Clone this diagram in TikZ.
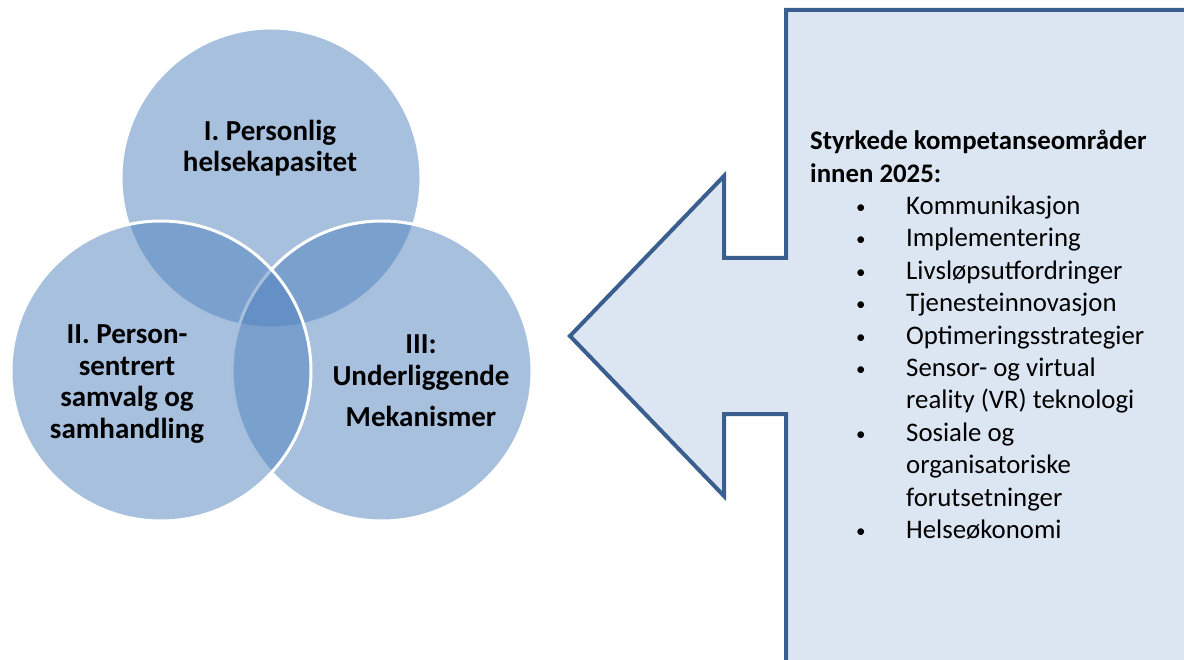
\documentclass[tikz,border=0pt]{standalone}
\usepackage{fontspec}
\setmainfont{Carlito}
\definecolor{vennblue}{HTML}{4F81BD}
\definecolor{arrowline}{HTML}{3A5F8F}
\definecolor{arrowfill}{HTML}{DCE6F2}
\tikzset{
  venn/.style={circle, minimum size=300pt, inner sep=0pt, fill=vennblue, fill opacity=0.5, draw=white, draw opacity=1, line width=3pt},
  venntext/.style={align=center, inner sep=0pt, font=\fontsize{29}{31.5}\selectfont\bfseries},
  arrowshape/.style={draw=arrowline, fill=arrowfill, line width=4pt, line join=miter},
}
\newcommand{\bul}[1]{\hspace*{46pt}\makebox[50pt][l]{\raisebox{1pt}{\fontsize{19}{19}\selectfont •}}#1}
\newcommand{\cont}[1]{\hspace*{96pt}#1}
\begin{document}
\begin{tikzpicture}[x=1pt,y=-1pt]
\useasboundingbox (0,0) rectangle (1184,660);
\clip (0,0) rectangle (1184,660);
% Venn circles
\node[venn] (c1) at (271,178) {};
\node[venn] (c3) at (382,371) {};
\node[venn] (c2) at (161,371) {};
\node[venntext] (t1) at (270,148) {I. Personlig\\helsekapasitet};
\node[venntext] (t2) at (127,384) {II. Person-\\sentrert\\samvalg og\\samhandling};
\node[venntext] (t3) at (421,381) {III:\\Underliggende\\[10pt]Mekanismer};
% Arrow callout
\coordinate (tip) at (570,336);
\draw[arrowshape] (1200,10) -- (786,10) -- (786,258) -- (724,258) -- (724,176) -- (tip)
  -- (724,496) -- (724,414) -- (786,414) -- (786,700) -- (1200,700) -- cycle;
\node[anchor=north west, align=left, inner sep=0pt, font=\fontsize{26.8}{32.4}\selectfont] (list) at (810,130) {%
{\bfseries Styrkede kompetanseområder}\\
{\bfseries innen 2025:}\\
\bul{Kommunikasjon}\\
\bul{Implementering}\\
\bul{Livsløpsutfordringer}\\
\bul{Tjenesteinnovasjon}\\
\bul{Optimeringsstrategier}\\
\bul{Sensor- og virtual}\\
\cont{reality (VR) teknologi}\\
\bul{Sosiale og}\\
\cont{organisatoriske}\\
\cont{forutsetninger}\\
\bul{Helseøkonomi}};
\end{tikzpicture}
\end{document}
